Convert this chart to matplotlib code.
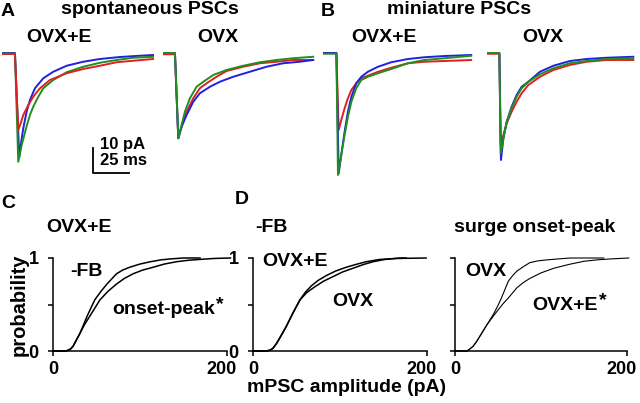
import numpy as np
import matplotlib.pyplot as plt
import matplotlib.transforms as mtransforms

plt.rcParams['font.family'] = ['Liberation Sans', 'DejaVu Sans']
plt.rcParams['font.weight'] = 'bold'

# ---- PSC traces (time in ms, current in pA) ----
# A: spontaneous PSCs, OVX+E
a1_blue_t = [0, 9.2, 12.2, 13.9, 15.0, 17.3, 19.6, 23.1, 28.9, 35.8, 45.1, 56.6, 68.2, 82.1, 96.0, 105.2]
a1_blue_i = [0, 0, -41.5, -34.1, -30.1, -23.5, -18.8, -14.1, -10.1, -7.5, -5.1, -3.5, -2.4, -1.6, -1.1, -0.8]
a1_green_t = [0, 9.2, 11.5, 13.9, 16.9, 19.6, 21.9, 25.4, 28.9, 35.8, 45.1, 56.6, 68.2, 79.8, 91.3, 105.2]
a1_green_i = [-0.2, -0.2, -43.5, -36.8, -30.1, -24.8, -21.5, -17.5, -14.1, -10.8, -7.7, -5.5, -3.9, -2.8, -1.9, -1.5]
a1_red_t = [0, 9.2, 11.5, 13.2, 15.0, 18.5, 21.9, 26.6, 33.5, 45.1, 56.6, 68.2, 79.8, 91.3, 105.2]
a1_red_i = [-0.4, -0.4, -30.8, -28.1, -24.8, -20.8, -17.5, -14.1, -10.8, -8.1, -6.4, -5.1, -3.7, -3.1, -2.4]

# A: spontaneous PSCs, OVX
a2_blue_t = [0, 8.1, 10.4, 12.7, 16.2, 20.8, 25.4, 32.4, 39.3, 48.6, 60.1, 71.7, 83.3, 94.8, 104.1]
a2_blue_i = [0, 0, -34.1, -29.5, -24.8, -19.5, -16.1, -13.5, -11.5, -9.5, -7.5, -5.5, -4.1, -3.5, -2.8]
a2_green_t = [0, 8.1, 10.4, 12.7, 15.0, 18.5, 23.1, 27.8, 34.7, 43.9, 55.5, 67.1, 78.6, 90.2, 104.1]
a2_green_i = [0, 0, -34.1, -28.8, -23.5, -18.1, -13.5, -11.5, -8.8, -6.8, -5.1, -3.7, -2.8, -2.1, -1.5]
a2_red_t = [0, 8.1, 10.4, 12.7, 16.2, 20.8, 25.4, 30.1, 37.0, 43.9, 55.5, 67.1, 78.6, 90.2, 104.1]
a2_red_i = [-0.5, -0.5, -34.1, -29.5, -23.5, -18.1, -14.1, -12.1, -9.5, -7.2, -5.5, -4.1, -3.5, -2.8, -2.8]

# B: miniature PSCs, OVX+E
b1_blue_t = [0, 9.3, 10.9, 12.7, 15.0, 17.3, 19.7, 23.1, 26.6, 31.2, 38.2, 47.4, 59.0, 70.5, 84.4, 102.9]
b1_blue_i = [0, 0, -48.1, -40.8, -31.5, -23.5, -17.5, -12.1, -9.5, -7.5, -5.5, -3.7, -2.4, -1.7, -1.2, -0.8]
b1_green_t = [0, 9.3, 10.4, 12.3, 15.0, 17.3, 19.7, 23.1, 26.6, 31.2, 38.2, 47.4, 59.0, 70.5, 84.4, 102.9]
b1_green_i = [-0.3, -0.3, -48.8, -42.1, -32.8, -25.5, -19.5, -14.1, -10.8, -9.5, -8.1, -6.4, -4.1, -2.8, -2.1, -1.1]
b1_red_t = [0, 9.3, 10.9, 12.7, 15.0, 17.3, 19.7, 23.1, 26.6, 31.2, 38.2, 47.4, 59.0, 70.5, 84.4, 102.9]
b1_red_i = [0, 0, -30.8, -26.8, -22.1, -18.1, -14.8, -12.1, -10.1, -9.1, -7.5, -5.9, -4.1, -3.5, -3.2, -2.8]

# B: miniature PSCs, OVX
b2_blue_t = [0, 8.8, 9.9, 11.6, 13.9, 17.3, 20.8, 24.3, 28.9, 37.0, 46.3, 57.8, 69.4, 83.3, 101.8]
b2_blue_i = [0, 0, -42.8, -34.1, -27.5, -21.5, -16.8, -13.5, -11.5, -7.5, -5.1, -3.2, -2.4, -1.9, -1.5]
b2_green_t = [0, 8.8, 9.7, 11.6, 13.9, 17.3, 20.8, 24.3, 28.9, 37.0, 46.3, 57.8, 69.4, 83.3, 101.8]
b2_green_i = [0, 0, -40.1, -34.1, -27.5, -22.1, -17.5, -14.1, -11.5, -8.5, -6.1, -4.1, -3.2, -2.4, -2.1]
b2_red_t = [0, 8.8, 9.7, 11.6, 13.9, 17.3, 20.8, 24.3, 28.9, 37.0, 46.3, 57.8, 69.4, 83.3, 101.8]
b2_red_i = [-0.3, -0.3, -36.8, -32.8, -28.1, -23.5, -19.5, -16.1, -12.8, -9.5, -6.8, -4.8, -3.5, -2.8, -2.8]

# ---- cumulative amplitude distributions (pA, probability) ----
c_fb_x = [0, 15, 20, 23, 27, 31, 35, 39, 44, 48, 55, 62, 68, 73, 80, 88, 100, 112, 124, 135, 150, 169]
c_fb_p = [0, 0, 0.02, 0.05, 0.12, 0.19, 0.28, 0.37, 0.47, 0.55, 0.64, 0.72, 0.78, 0.83, 0.87, 0.90, 0.935, 0.96, 0.98, 0.99, 1.0, 1.0]
c_op_x = [0, 15, 20, 23, 27, 31, 36, 42, 48, 54, 63, 73, 82, 92, 103, 115, 128, 142, 155, 169, 185, 204]
c_op_p = [0, 0, 0.02, 0.05, 0.12, 0.19, 0.28, 0.37, 0.46, 0.55, 0.64, 0.72, 0.78, 0.83, 0.87, 0.90, 0.935, 0.96, 0.975, 0.985, 0.995, 1.0]

d1_e_x = [0, 15, 20, 23, 27, 32, 38, 46, 54, 60, 67, 75, 84, 95, 107, 118, 130, 146, 165, 199]
d1_e_p = [0, 0, 0.01, 0.03, 0.08, 0.16, 0.26, 0.41, 0.55, 0.63, 0.70, 0.76, 0.81, 0.86, 0.90, 0.93, 0.96, 0.985, 0.995, 1.0]
d1_o_x = [0, 15, 20, 23, 27, 32, 38, 46, 54, 62, 71, 81, 92, 103, 115, 127, 138, 152, 169, 176]
d1_o_p = [0, 0, 0.01, 0.03, 0.08, 0.16, 0.26, 0.41, 0.55, 0.63, 0.69, 0.75, 0.80, 0.85, 0.89, 0.93, 0.96, 0.985, 1.0, 1.0]

d2_o_x = [0, 14, 17, 21, 25, 31, 37, 41, 45, 50, 54, 58, 62, 67, 72, 80, 87, 97, 107, 120, 134, 173]
d2_o_p = [0, 0, 0.02, 0.05, 0.10, 0.19, 0.28, 0.34, 0.40, 0.49, 0.57, 0.66, 0.75, 0.81, 0.86, 0.91, 0.95, 0.97, 0.98, 0.99, 1.0, 1.0]
d2_e_x = [0, 14, 17, 21, 25, 31, 37, 41, 45, 50, 56, 62, 72, 80, 87, 100, 115, 132, 150, 165, 181, 202]
d2_e_p = [0, 0, 0.02, 0.05, 0.10, 0.19, 0.28, 0.33, 0.38, 0.44, 0.51, 0.57, 0.68, 0.74, 0.78, 0.84, 0.89, 0.93, 0.965, 0.98, 0.99, 1.0]

W, H = 640, 403
fig = plt.figure(figsize=(W / 100, H / 100), dpi=100)


def px_axes(x0, y0, x1, y1):
    return fig.add_axes([x0 / W, 1 - y1 / H, (x1 - x0) / W, (y1 - y0) / H])


def px_text(x, y, s, size=14, ha='center', va='center', **kw):
    return fig.text(x / W, 1 - y / H, s, fontsize=size, ha=ha, va=va, fontweight='bold', **kw)


red, green, blue = '#e02020', '#1f8f1f', '#2020e0'

trace_groups = [
    (1.7, [(a1_blue_t, a1_blue_i, blue), (a1_green_t, a1_green_i, green), (a1_red_t, a1_red_i, red)]),
    (163.3, [(a2_red_t, a2_red_i, red), (a2_blue_t, a2_blue_i, blue), (a2_green_t, a2_green_i, green)]),
    (323, [(b1_red_t, b1_red_i, red), (b1_blue_t, b1_blue_i, blue), (b1_green_t, b1_green_i, green)]),
    (486.7, [(b2_red_t, b2_red_i, red), (b2_blue_t, b2_blue_i, blue), (b2_green_t, b2_green_i, green)]),
]
ms_per_px, pa_per_px = 25 / 36, 10 / 25
trace_axes = []
for left, traces in trace_groups:
    ax = px_axes(left, 48, left + 106 / ms_per_px, 48 + 54 / pa_per_px)
    for t, i, c in traces:
        ax.plot(t, i, color=c, lw=1.4, solid_joinstyle='round')
    ax.set_xlim(0, 106)
    ax.set_ylim(-52, 2)
    ax.axis('off')
    trace_axes.append(ax)

# scale bar: 10 pA, 25 ms
sb = trace_axes[0]
sb.plot([63.4, 63.4, 88.4], [-38, -48, -48], color='black', lw=1.3, clip_on=False)
sb.text(68.2, -36.4, '10 pA', fontsize=12, ha='left', va='center', fontweight='bold')
sb.text(68.2, -43.0, '25 ms', fontsize=12, ha='left', va='center', fontweight='bold')

shift_left = mtransforms.ScaledTranslation(-4 / 72, 0, fig.dpi_scale_trans)


def cdf_axes(left, px_per_pa, ylabels):
    ax = px_axes(left, 258, left + 206 * px_per_pa, 351)
    ax.set_xlim(0, 206)
    ax.set_ylim(0, 1)
    for s in ['top', 'right']:
        ax.spines[s].set_visible(False)
    ax.spines['left'].set_bounds(0, 1)
    ax.spines['bottom'].set_bounds(0, 200)
    for s in ['left', 'bottom']:
        ax.spines[s].set_linewidth(1.1)
    ax.set_xticks([0, 200])
    ax.set_xticklabels(['0', '200'], fontweight='bold')
    ax.set_yticks([0, 0.5, 1])
    ax.set_yticklabels(['0', '', '1'] if ylabels else ['', '', ''], fontweight='bold')
    ax.tick_params(direction='out', length=3.5, width=1.1, labelsize=13)
    ax.tick_params(axis='x', pad=4)
    ax.tick_params(axis='y', pad=7)
    lab = ax.get_xticklabels()[1]
    lab.set_transform(lab.get_transform() + shift_left)
    ax.patch.set_visible(False)
    return ax


axC = cdf_axes(53, 0.87, True)
axC.plot(c_fb_x, c_fb_p, color='black', lw=1.1, clip_on=False)
axC.plot(c_op_x, c_op_p, color='black', lw=1.1, clip_on=False)
axC.set_ylabel('probability', fontsize=14.5, fontweight='bold', labelpad=0)

axD1 = cdf_axes(253, 0.87, True)
axD1.plot(d1_e_x, d1_e_p, color='black', lw=1.1, clip_on=False)
axD1.plot(d1_o_x, d1_o_p, color='black', lw=1.1, clip_on=False)

axD2 = cdf_axes(455, 0.86, False)
axD2.plot(d2_o_x, d2_o_p, color='black', lw=0.8, clip_on=False)
axD2.plot(d2_e_x, d2_e_p, color='black', lw=0.8, clip_on=False)

# panel letters and titles
px_text(8, 11, 'A')
px_text(328, 11, 'B')
px_text(8, 204, 'C')
px_text(242, 199, 'D')
px_text(150, 10, 'spontaneous PSCs')
px_text(459, 10, 'miniature PSCs')
px_text(59, 38, 'OVX+E')
px_text(218, 38, 'OVX')
px_text(384, 38, 'OVX+E')
px_text(543, 38, 'OVX')

px_text(79, 228, 'OVX+E')
px_text(255, 228, '-FB', ha='left')
px_text(535, 228, 'surge onset-peak')

px_text(86, 272, '-FB')
t1 = px_text(112, 310, 'onset-peak', ha='left')
axC.annotate('*', xy=(1.0, 1.0), xycoords=t1, xytext=(1, 4), textcoords='offset points',
             ha='left', va='top', fontsize=14, fontweight='bold', annotation_clip=False)
px_text(295, 261, 'OVX+E')
px_text(353, 301, 'OVX')
px_text(486, 271, 'OVX')
t2 = px_text(532, 306, 'OVX+E', ha='left')
axD2.annotate('*', xy=(1.0, 1.0), xycoords=t2, xytext=(1, 4), textcoords='offset points',
              ha='left', va='top', fontsize=14, fontweight='bold', annotation_clip=False)

px_text(347, 388, 'mPSC amplitude (pA)')

fig.savefig('out.png', dpi=100)
